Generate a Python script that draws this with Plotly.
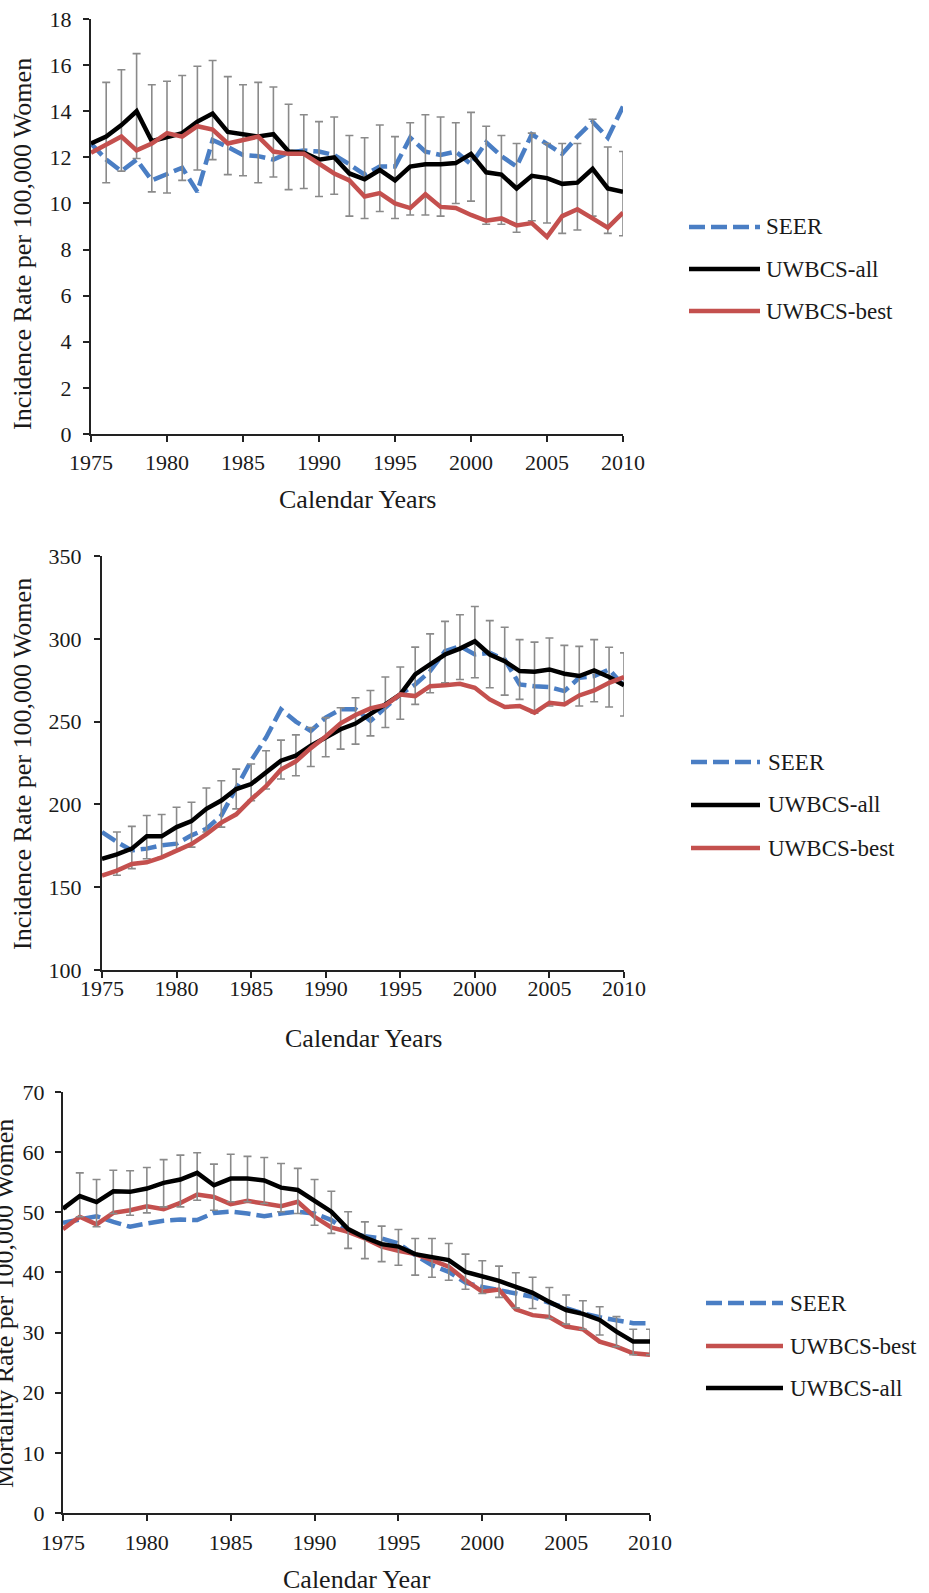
import plotly.graph_objects as go

W, H = 929, 1593

years = list(range(1975, 2011))

# ---------------- Panel 1: incidence (18 max) ----------------
seer1 = [12.6, 11.9, 11.4, 11.9, 11.0, 11.3, 11.55, 10.5, 12.75, 12.45,
         12.1, 12.05, 11.9, 12.2, 12.3, 12.25, 12.1, 11.7, 11.25, 11.6,
         11.6, 12.85, 12.25, 12.1, 12.25, 11.7, 12.65, 12.05, 11.6, 13.0,
         12.6, 12.15, 12.9, 13.55, 12.85, 14.2]
all1 = [12.6, 12.9, 13.4, 14.0, 12.7, 12.9, 13.05, 13.55, 13.9, 13.1,
        13.0, 12.9, 13.0, 12.25, 12.2, 11.9, 12.0, 11.3, 11.05, 11.45,
        11.0, 11.6, 11.7, 11.7, 11.75, 12.15, 11.35, 11.25, 10.65, 11.2,
        11.1, 10.85, 10.9, 11.5, 10.65, 10.5]
best1 = [12.2, 12.55, 12.9, 12.3, 12.6, 13.05, 12.9, 13.35, 13.2, 12.6,
         12.75, 12.9, 12.25, 12.15, 12.15, 11.7, 11.3, 11.0, 10.3, 10.45,
         10.0, 9.8, 10.4, 9.85, 9.8, 9.5, 9.25, 9.35, 9.05, 9.15,
         8.55, 9.45, 9.75, 9.35, 8.95, 9.6]
hi1 = [None, 15.25, 15.8, 16.5, 15.15, 15.3, 15.55, 15.95, 16.2, 15.5,
       15.15, 15.25, 15.05, 14.3, 13.85, 13.55, 13.75, 12.95, 12.85, 13.4,
       12.9, 13.5, 13.85, 13.75, 13.5, 13.95, 13.35, 12.95, 12.6, 13.05,
       12.6, 12.6, 12.6, 13.65, 12.45, 12.25]
lo1 = [None, 10.9, 11.4, 11.95, 10.5, 10.45, 11.0, 11.45, 11.9, 11.25,
       11.2, 10.9, 11.15, 10.6, 10.65, 10.3, 10.4, 9.45, 9.35, 9.65,
       9.35, 9.5, 9.5, 9.45, 10.0, 10.1, 9.1, 9.1, 8.75, 9.25,
       9.15, 8.7, 8.85, 9.45, 8.7, 8.6]

# ---------------- Panel 2: incidence (350 max) ----------------
seer2 = [183.3, 177.3, 172.2, 173.3, 175.3, 176.3, 181.3, 185.3, 193.3, 210.3,
         226.4, 240.4, 257.4, 250.0, 244.4, 252.4, 257.4, 257.4, 250.4, 258.4,
         266.4, 272.4, 280.5, 292.5, 295.5, 290.5, 291.5, 287.5, 272.4, 271.4,
         270.8, 268.4, 276.5, 277.5, 281.5, 271.4]
all2 = [167.2, 169.8, 173.3, 180.7, 180.7, 186.3, 189.9, 197.3, 202.3, 209.3,
        212.3, 219.3, 226.4, 229.4, 235.4, 240.4, 245.4, 248.8, 255.0, 260.4,
        266.4, 278.5, 284.5, 290.5, 294.1, 298.5, 290.5, 286.5, 280.5, 280.1,
        281.5, 278.9, 277.5, 280.9, 276.9, 272.0]
best2 = [157.0, 160.0, 164.0, 165.0, 168.0, 172.0, 176.0, 182.0, 189.0, 194.0,
         203.0, 211.0, 221.0, 226.0, 234.0, 241.0, 249.0, 254.0, 258.0, 260.0,
         266.4, 265.4, 271.4, 272.0, 272.8, 270.4, 263.4, 258.8, 259.4, 255.4,
         261.4, 260.4, 265.8, 268.8, 273.4, 276.9]
hi2 = [None, 183.3, 186.7, 193.3, 193.9, 198.3, 201.3, 209.9, 214.3, 221.3,
       224.4, 232.4, 238.8, 242.0, 246.4, 252.4, 258.4, 264.4, 268.8, 276.9,
       283.0, 295.0, 303.0, 310.5, 314.5, 319.5, 311.0, 307.0, 299.5, 298.0,
       300.5, 296.0, 295.4, 299.5, 294.9, 291.5]
lo2 = [None, 157.2, 161.2, 167.2, 168.2, 172.2, 174.2, 183.3, 186.3, 197.3,
       202.3, 209.3, 215.3, 217.3, 222.9, 228.8, 233.4, 236.4, 241.4, 246.4,
       251.4, 260.4, 267.4, 273.4, 275.4, 276.5, 270.4, 266.0, 263.4, 255.0,
       259.4, 260.4, 259.4, 262.0, 258.8, 253.4]

# ---------------- Panel 3: mortality ----------------
seer3 = [48.25, 48.8, 49.35, 48.4, 47.6, 48.15, 48.6, 48.8, 48.7, 49.9,
         50.1, 49.8, 49.35, 49.8, 50.1, 49.8, 48.7, 46.75, 46.0, 45.65,
         44.8, 42.9, 41.2, 40.1, 38.3, 37.6, 37.05, 36.6, 35.95, 34.95,
         34.0, 33.2, 32.55, 32.0, 31.55, 31.55]
all3 = [50.6, 52.7, 51.7, 53.5, 53.4, 53.95, 54.9, 55.45, 56.55, 54.5,
        55.6, 55.6, 55.3, 54.1, 53.7, 52.0, 50.1, 47.2, 45.8, 44.7,
        44.3, 43.05, 42.6, 42.05, 40.1, 39.3, 38.6, 37.6, 36.6, 35.1,
        33.75, 33.1, 32.1, 30.15, 28.5, 28.5]
best3 = [47.2, 49.25, 48.0, 49.9, 50.35, 51.0, 50.5, 51.55, 52.95, 52.55,
         51.35, 51.9, 51.45, 51.0, 51.75, 49.25, 47.5, 46.75, 45.65, 44.3,
         43.6, 43.05, 42.05, 40.95, 38.7, 36.8, 37.15, 33.85, 32.9, 32.6,
         31.0, 30.55, 28.5, 27.65, 26.55, 26.3]
hi3 = [None, 56.55, 55.45, 57.0, 56.9, 57.45, 58.75, 59.5, 59.9, 58.0,
       59.65, 59.3, 59.1, 58.1, 57.3, 55.45, 53.5, 50.1, 48.4, 47.7,
       47.15, 45.65, 45.65, 44.8, 43.05, 41.95, 41.05, 39.95, 39.2, 37.5,
       36.25, 35.3, 34.3, 32.65, 30.55, 30.55]
lo3 = [None, 49.25, 47.6, 49.8, 49.5, 49.9, 50.9, 50.9, 52.0, 50.35,
       51.75, 51.75, 51.45, 50.1, 49.8, 47.85, 46.5, 44.0, 42.3, 41.8,
       41.2, 39.55, 39.2, 38.7, 37.2, 36.5, 35.85, 34.1, 34.0, 32.35,
       31.4, 30.55, 29.6, 27.65, 26.3, 26.3]

BLUE = "#4a7ec4"
RED = "#c4504e"
BLACK = "#000000"
GRAY = "#8a8a8a"
DASH = "16px,6px"
LW = 4.5
FONT = "Liberation Serif"


def px(x):
    return x / W


def py(y):
    return 1 - y / H


def errs(center, hi, lo):
    plus = [None if h is None else h - c for h, c in zip(hi, center)]
    minus = [None if l is None else c - l for l, c in zip(lo, center)]
    return plus, minus


fig = go.Figure()

panels = [
    dict(n=1, order=[("SEER", seer1), ("UWBCS-all", all1), ("UWBCS-best", best1)],
         hi=hi1, lo=lo1, allv=all1),
    dict(n=2, order=[("SEER", seer2), ("UWBCS-all", all2), ("UWBCS-best", best2)],
         hi=hi2, lo=lo2, allv=all2),
    dict(n=3, order=[("SEER", seer3), ("UWBCS-best", best3), ("UWBCS-all", all3)],
         hi=hi3, lo=lo3, allv=all3),
]

style = {
    "SEER": dict(color=BLUE, width=LW, dash=DASH),
    "UWBCS-all": dict(color=BLACK, width=LW),
    "UWBCS-best": dict(color=RED, width=LW),
}

for p in panels:
    n = p["n"]
    xa = "x" if n == 1 else f"x{n}"
    ya = "y" if n == 1 else f"y{n}"
    for name, vals in p["order"]:
        kw = {}
        if name == "UWBCS-all":
            plus, minus = errs(p["allv"], p["hi"], p["lo"])
            kw["error_y"] = dict(type="data", symmetric=False, array=plus,
                                 arrayminus=minus, color=GRAY, thickness=1.6,
                                 width=4)
        fig.add_trace(go.Scatter(x=years, y=vals, mode="lines", name=name,
                                 line=style[name], xaxis=xa, yaxis=ya,
                                 showlegend=False, **kw))

axis_common = dict(showline=True, linecolor="#222222", linewidth=2,
                   ticks="outside", ticklen=6, tickwidth=2, tickcolor="#222222",
                   showgrid=False, zeroline=False, automargin=False,
                   tickfont=dict(family=FONT, size=22, color="#1a1a1a"))

# plot-area pixel boxes: (left, right, top, bottom)
boxes = {1: (91, 623, 19, 434), 2: (102, 624, 556, 970), 3: (63, 650, 1092, 1513)}
yranges = {1: (0, 18, 2), 2: (100, 350, 50), 3: (0, 70, 10)}
xstand = {1: 2, 2: -8, 3: 3}
ystand = {1: 7, 2: 8, 3: 6}

layout = dict(width=W, height=H, margin=dict(l=0, r=0, t=0, b=0, autoexpand=False),
              autosize=False, paper_bgcolor="white", plot_bgcolor="white",
              showlegend=False)
for n, (l, r, t, b) in boxes.items():
    xk = "xaxis" if n == 1 else f"xaxis{n}"
    yk = "yaxis" if n == 1 else f"yaxis{n}"
    yr = yranges[n]
    layout[xk] = dict(axis_common, domain=[px(l), px(r)], range=[1975, 2010],
                      tick0=1975, dtick=5, anchor="y" if n == 1 else f"y{n}",
                      ticklabelstandoff=xstand[n])
    layout[yk] = dict(axis_common, domain=[py(b), py(t)], range=[yr[0], yr[1]],
                      tick0=yr[0], dtick=yr[2], anchor="x" if n == 1 else f"x{n}",
                      ticklabelstandoff=ystand[n])
fig.update_layout(**layout)

annotations = []
shapes = []

# axis titles
titles = [
    ("Incidence Rate per 100,000 Women", 22, 244, -90),
    ("Calendar Years", 357, 500, 0),
    ("Incidence Rate per 100,000 Women", 22, 764, -90),
    ("Calendar Years", 363, 1038, 0),
    ("Mortality Rate per 100,000 Women", 4, 1304, -90),
    ("Calendar Year", 357, 1579, 0),
]
for text, x, y, ang in titles:
    annotations.append(dict(text=text, x=px(x), y=py(y), xref="paper", yref="paper",
                            xanchor="center", yanchor="middle", showarrow=False,
                            textangle=ang,
                            font=dict(family=FONT, size=26, color="#1a1a1a")))

# legends (line sample + label), one per panel
legends = [
    (["SEER", "UWBCS-all", "UWBCS-best"], 689, 760, 764, [227, 269, 311]),
    (["SEER", "UWBCS-all", "UWBCS-best"], 691, 760, 766, [762, 805, 848]),
    (["SEER", "UWBCS-best", "UWBCS-all"], 706, 783, 788, [1303, 1346, 1388]),
]
for names, x0, x1, xt, ys in legends:
    for name, y in zip(names, ys):
        st = style[name]
        shapes.append(dict(type="line", xref="paper", yref="paper",
                           x0=px(x0), x1=px(x1), y0=py(y), y1=py(y),
                           line=dict(color=st["color"], width=st["width"],
                                     dash=st.get("dash", "solid"))))
        annotations.append(dict(text=name, x=px(xt), y=py(y), xref="paper",
                                yref="paper", xanchor="left", yanchor="middle",
                                showarrow=False,
                                font=dict(family=FONT, size=23, color="#1a1a1a")))

fig.update_layout(annotations=annotations, shapes=shapes)
fig.write_html("out.html")
